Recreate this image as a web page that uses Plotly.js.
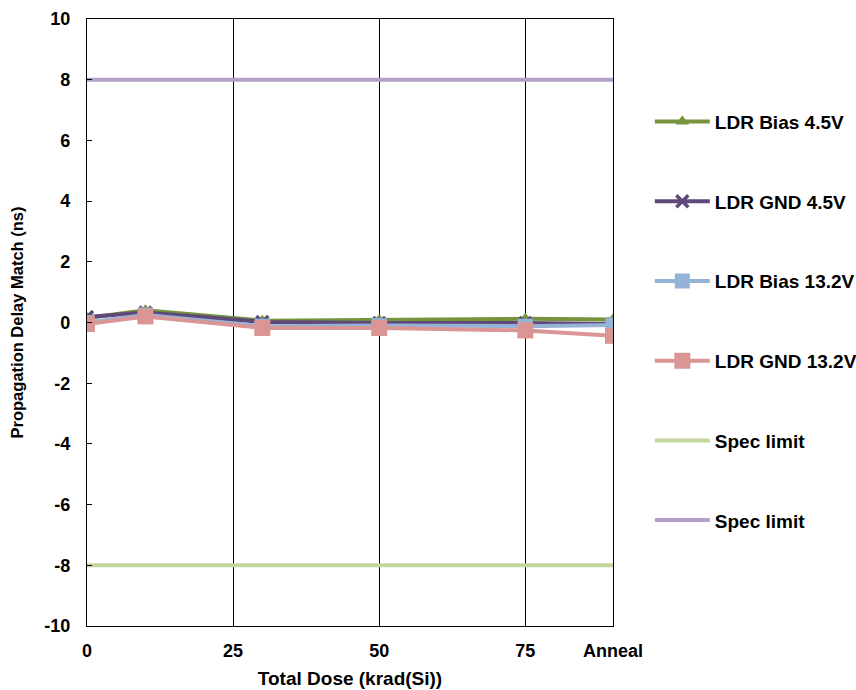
<!DOCTYPE html>
<html>
<head>
<meta charset="utf-8">
<script src="https://cdn.plot.ly/plotly-3.0.1.min.js"></script>
<style>
  html, body { margin: 0; padding: 0; background: #ffffff; }
  #chart { width: 856px; height: 690px; }
</style>
</head>
<body>
<div id="chart"></div>
<script>
// Total dose steps (krad(Si)); the last step is the anneal measurement
const doseSteps = [0, 10, 30, 50, 75, 90];
const xTickValues = [0, 25, 50, 75, 90];
const xTickLabels = ['0', '25', '50', '75', 'Anneal'];
const yTickValues = [-10, -8, -6, -4, -2, 0, 2, 4, 6, 8, 10];
const yTickLabels = ['-10', '-8', '-6', '-4', '-2', '0', '2', '4', '6', '8', '10'];

// Propagation delay match (ns) per unit condition
const ldrBias45 = [0.15, 0.40, 0.06, 0.08, 0.12, 0.10];
const ldrGnd45 = [0.18, 0.33, 0.02, -0.02, -0.02, -0.05];
const ldrBias132 = [0.00, 0.25, -0.12, -0.10, -0.12, -0.08];
const ldrGnd132 = [-0.05, 0.20, -0.18, -0.18, -0.26, -0.44];

// Specification limits (ns)
const specX = [0, 90];
const specLow = [-8, -8];
const specHigh = [8, 8];

const FONT = 'Liberation Sans, Arial, sans-serif';

function series(name, y, color, symbol, size, group) {
  return {
    x: doseSteps, y: y, name: name, type: 'scatter', mode: 'lines+markers',
    line: { color: color, width: 4 },
    marker: { symbol: symbol, size: size, color: color, line: { width: 0 } },
    legendgroup: group
  };
}

const traces = [
  series('LDR Bias 4.5V', ldrBias45, '#77933C', 'triangle-up', 12, 'g1'),
  series('LDR GND 4.5V', ldrGnd45, '#5F497A', 'x-thin-open', 12, 'g2'),
  series('LDR Bias 13.2V', ldrBias132, '#95B3D7', 'square', 15, 'g3'),
  series('LDR GND 13.2V', ldrGnd132, '#D99694', 'square', 16, 'g4'),
  { x: specX, y: specLow, name: 'Spec limit', type: 'scatter', mode: 'lines',
    line: { color: '#C3D69B', width: 4 }, legendgroup: 'g5' },
  { x: specX, y: specHigh, name: 'Spec limit', type: 'scatter', mode: 'lines',
    line: { color: '#B2A1C7', width: 4 }, legendgroup: 'g6' }
];
// the X marker needs a stroke width to be visible
traces[1].marker.line = { width: 3.5, color: '#5F497A' };

const layout = {
  width: 856, height: 690,
  margin: { l: 87, r: 243, t: 19, b: 64, autoexpand: false },
  paper_bgcolor: '#ffffff', plot_bgcolor: '#ffffff',
  font: { family: FONT, size: 16, color: '#000000' },
  showlegend: true,
  legend: {
    x: 1.07, y: 0.862, xanchor: 'left', yanchor: 'top',
    font: { family: FONT, size: 19, color: '#000000', weight: 'bold' },
    tracegroupgap: 52, itemwidth: 55, bgcolor: 'rgba(0,0,0,0)'
  },
  xaxis: {
    range: [0, 90], tickmode: 'array', tickvals: xTickValues, ticktext: xTickLabels,
    showgrid: true, gridcolor: '#000000', gridwidth: 1,
    showline: true, linecolor: '#000000', linewidth: 1.2, mirror: true,
    ticks: '', zeroline: false, ticklabelstandoff: 8,
    tickfont: { family: FONT, size: 18, weight: 'bold' },
    title: { text: 'Total Dose (krad(Si))', font: { family: FONT, size: 19, weight: 'bold' }, standoff: 12 }
  },
  yaxis: {
    range: [-10, 10], tickmode: 'array', tickvals: yTickValues, ticktext: yTickLabels,
    showgrid: false, zeroline: false,
    showline: true, linecolor: '#000000', linewidth: 1.2, mirror: true,
    ticks: 'inside', ticklen: 5, tickcolor: '#000000', tickwidth: 1,
    ticklabelstandoff: 12,
    tickfont: { family: FONT, size: 18, weight: 'bold' },
    title: { text: 'Propagation Delay Match (ns)', font: { family: FONT, size: 16.5, weight: 'bold' }, standoff: 16 }
  }
};

Plotly.newPlot('chart', traces, layout, { displayModeBar: false, staticPlot: true });
</script>
</body>
</html>
